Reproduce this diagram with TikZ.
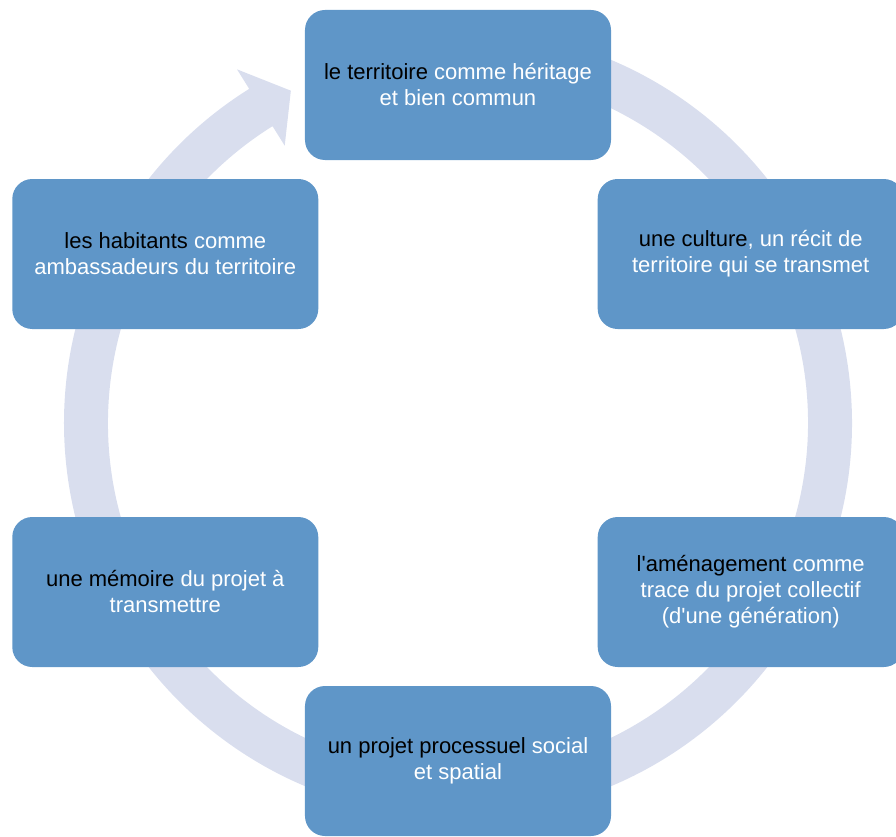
\documentclass[tikz,border=0pt]{standalone}
\usepackage{fontspec}
\setmainfont{Liberation Sans}
\usepackage{xcolor}
\usepackage{tikz}
\usetikzlibrary{arrows.meta}

\definecolor{boxblue}{HTML}{5F96C8}
\definecolor{ringgray}{HTML}{D9DEEE}
\newcommand{\key}[1]{\textcolor{black}{#1}}

\begin{document}
\begin{tikzpicture}[
    x=1pt,
    y=1pt,
    ringfill/.style={fill=ringgray, draw=none},
    stage/.style={rectangle, rounded corners=20pt, fill=boxblue, draw=none,
                  minimum width=306pt, minimum height=150pt, inner sep=0pt,
                  text=white, align=center,
                  font=\fontsize{22}{26}\selectfont},
]
\useasboundingbox (-458,-413) rectangle (438,423);
\clip (-458,-413) rectangle (438,423);
% cycle ring with its head just before the first stage
\def\rin{350}
\def\rout{394}
\fill[ringfill] (95:\rout) arc[start angle=95, end angle=-238, radius=\rout]
  -- (122:417) -- (116.7:372) -- (122:327)
  -- (-238:\rin) arc[start angle=-238, end angle=95, radius=\rin] -- cycle;
% stages
\node[stage] (territoire) at (90:338)
  {\key{le territoire} comme héritage\\et bien commun};
\node[stage] (culture) at (30:338)
  {\key{une culture}, un récit de\\territoire qui se transmet};
\node[stage] (amenagement) at (-30:338)
  {\key{l\textquotesingle aménagement} comme\\trace du projet collectif\\(d\textquotesingle une génération)};
\node[stage] (projet) at (-90:338)
  {\key{un projet processuel} social\\et spatial};
\node[stage] (memoire) at (-150:338)
  {\key{une mémoire} du projet à\\transmettre};
\node[stage] (habitants) at (150:338)
  {\key{les habitants} comme\\ambassadeurs du territoire};
\end{tikzpicture}
\end{document}
